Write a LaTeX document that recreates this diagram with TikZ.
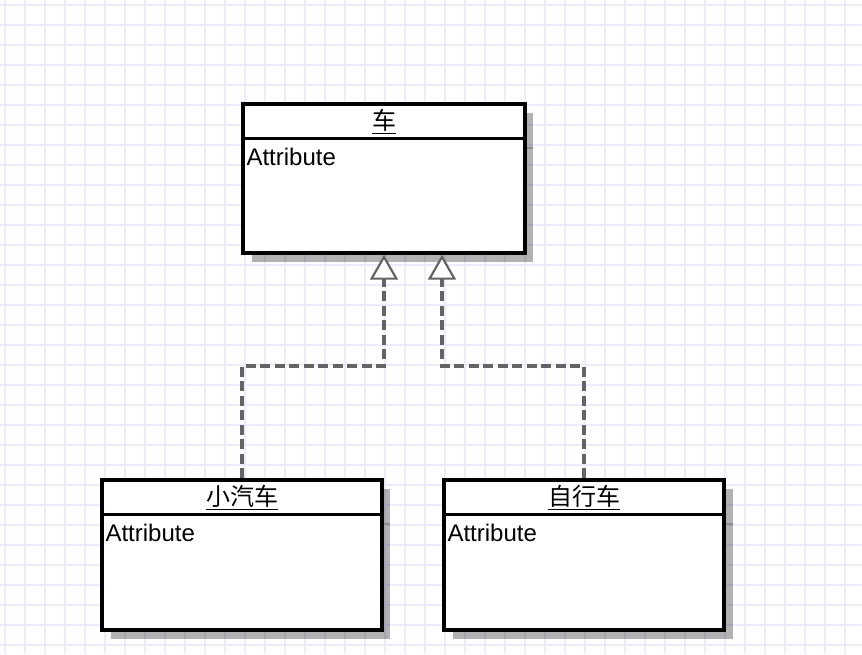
\documentclass[tikz,border=0pt]{standalone}
\usepackage{fontspec}
\setmainfont{Liberation Sans}
\newfontfamily\cjk{Noto Sans CJK SC}
\usetikzlibrary{arrows.meta,calc}
\definecolor{gridc}{RGB}{236,236,255}
\definecolor{depc}{RGB}{100,100,100}
\tikzset{
  gridline/.style={draw=gridc, line width=1.3pt},
  classbox/.style={draw=black, fill=white, line width=3.4pt, inner sep=0pt},
  shadowbox/.style={fill=black, fill opacity=0.3},
  divider/.style={draw=black, line width=3.4pt},
  classtitle/.style={inner sep=0pt, font=\cjk\fontsize{24}{28}\selectfont},
  attr/.style={inner sep=0pt, anchor=base west, font=\fontsize{24}{28}\selectfont},
  dep/.style={draw=depc, line width=3.2pt, dash pattern=on 10pt off 4.5pt,
    -{Triangle[open, fill=white, width=28pt, length=25pt, line width=2.2pt]}},
}
\begin{document}
\begin{tikzpicture}[x=1pt,y=-1pt]
\useasboundingbox (0,0) rectangle (862,654);
\fill[white] (0,0) rectangle (862,654);
\foreach \x in {5,25,...,845} \draw[gridline] (\x,0) -- (\x,654);
\foreach \y in {5,25,...,645} \draw[gridline] (0,\y) -- (862,\y);

% shadows
\fill[shadowbox] (252,113) rectangle (533,262);
\fill[shadowbox] (111,489) rectangle (390,639);
\fill[shadowbox] (453,489) rectangle (733,639);
\draw[black!45, line width=1.5pt] (525,148) -- (533,148);
\draw[black!45, line width=1.5pt] (382,524) -- (390,524);
\draw[black!45, line width=1.5pt] (724,524) -- (733,524);

% classes
\node[classbox, minimum width=282pt, minimum height=149pt] (car) at (384,178.5) {};
\node[classbox, minimum width=280pt, minimum height=150pt] (auto) at (242,555) {};
\node[classbox, minimum width=280pt, minimum height=150pt] (bike) at (584,555) {};

\draw[divider] ($(car.north west)+(0,36)$) -- ($(car.north east)+(0,36)$);
\draw[divider] ($(auto.north west)+(0,36)$) -- ($(auto.north east)+(0,36)$);
\draw[divider] ($(bike.north west)+(0,36)$) -- ($(bike.north east)+(0,36)$);

\node[classtitle] (cart) at ($(car.north)+(0,19)$) {\underline{车}};
\node[classtitle] (autot) at ($(auto.north)+(0,19)$) {\underline{小汽车}};
\node[classtitle] (biket) at ($(bike.north)+(0,19)$) {\underline{自行车}};

\node[attr] (cara) at ($(car.north west)+(5,63)$) {Attribute};
\node[attr] (autoa) at ($(auto.north west)+(5,63)$) {Attribute};
\node[attr] (bikea) at ($(bike.north west)+(5,63)$) {Attribute};

% realization connectors
\coordinate (a1) at (car.south);
\coordinate (a2) at ($(car.south)+(58,0)$);
\draw[dep] (auto.north) -- (auto.north |- 0,366) -- (a1 |- 0,366) -- (a1);
\draw[dep] (bike.north) -- (bike.north |- 0,366) -- (a2 |- 0,366) -- (a2);
\end{tikzpicture}
\end{document}
